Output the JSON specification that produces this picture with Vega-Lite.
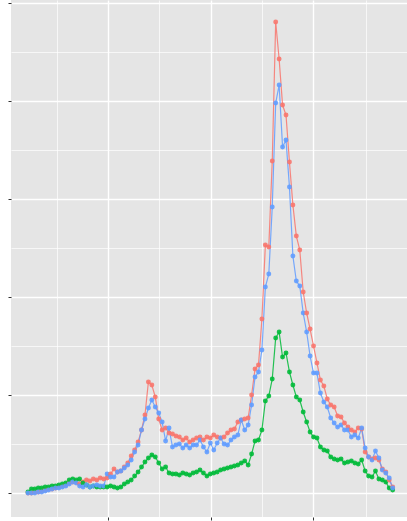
{
  "$schema": "https://vega.github.io/schema/vega-lite/v6.json",
  "width": 396,
  "height": 517,
  "autosize": "none",
  "padding": {"left": 11, "top": 0, "right": 0, "bottom": 4},
  "background": "white",
  "config": {"view": {"fill": "#E5E5E5", "stroke": null}},
  "data": {"values": [
    {"t":0,"a":0.00,"b":0.10,"c":0.00},
    {"t":1,"a":0.00,"b":0.41,"c":0.00},
    {"t":2,"a":0.10,"b":0.41,"c":0.00},
    {"t":3,"a":0.10,"b":0.51,"c":0.10},
    {"t":4,"a":0.20,"b":0.51,"c":0.10},
    {"t":5,"a":0.31,"b":0.61,"c":0.20},
    {"t":6,"a":0.41,"b":0.61,"c":0.31},
    {"t":7,"a":0.41,"b":0.71,"c":0.41},
    {"t":8,"a":0.51,"b":0.71,"c":0.51},
    {"t":9,"a":0.61,"b":0.82,"c":0.51},
    {"t":10,"a":0.71,"b":0.92,"c":0.61},
    {"t":11,"a":0.82,"b":1.02,"c":0.71},
    {"t":12,"a":1.02,"b":1.33,"c":0.92},
    {"t":13,"a":1.12,"b":1.43,"c":1.12},
    {"t":14,"a":1.12,"b":1.33,"c":1.02},
    {"t":15,"a":0.92,"b":1.43,"c":0.71},
    {"t":16,"a":1.12,"b":1.02,"c":0.61},
    {"t":17,"a":1.33,"b":0.82,"c":0.82},
    {"t":18,"a":1.22,"b":0.61,"c":0.61},
    {"t":19,"a":1.43,"b":0.71,"c":0.71},
    {"t":20,"a":1.33,"b":0.61,"c":0.82},
    {"t":21,"a":1.53,"b":0.61,"c":0.71},
    {"t":22,"a":1.43,"b":0.61,"c":0.71},
    {"t":23,"a":1.53,"b":0.61,"c":1.94},
    {"t":24,"a":1.94,"b":0.71,"c":1.63},
    {"t":25,"a":2.45,"b":0.61,"c":1.63},
    {"t":26,"a":2.14,"b":0.51,"c":2.14},
    {"t":27,"a":2.24,"b":0.61,"c":2.24},
    {"t":28,"a":2.65,"b":0.92,"c":2.55},
    {"t":29,"a":3.06,"b":1.12,"c":2.86},
    {"t":30,"a":3.78,"b":1.33,"c":3.37},
    {"t":31,"a":4.39,"b":1.73,"c":4.18},
    {"t":32,"a":5.20,"b":2.14,"c":4.90},
    {"t":33,"a":6.43,"b":2.65,"c":6.43},
    {"t":34,"a":7.96,"b":3.16,"c":7.55},
    {"t":35,"a":11.33,"b":3.57,"c":8.67},
    {"t":36,"a":11.02,"b":3.88,"c":9.49},
    {"t":37,"a":9.80,"b":3.67,"c":8.78},
    {"t":38,"a":7.55,"b":3.06,"c":8.16},
    {"t":39,"a":6.43,"b":2.45,"c":7.24},
    {"t":40,"a":6.63,"b":2.65,"c":5.31},
    {"t":41,"a":6.12,"b":2.04,"c":6.63},
    {"t":42,"a":6.02,"b":1.94,"c":4.69},
    {"t":43,"a":5.82,"b":1.94,"c":4.90},
    {"t":44,"a":5.71,"b":1.84,"c":5.00},
    {"t":45,"a":5.41,"b":2.04,"c":4.59},
    {"t":46,"a":5.61,"b":1.94,"c":4.90},
    {"t":47,"a":5.20,"b":1.84,"c":4.59},
    {"t":48,"a":5.41,"b":2.04,"c":4.90},
    {"t":49,"a":5.61,"b":2.14,"c":4.90},
    {"t":50,"a":5.71,"b":2.35,"c":5.41},
    {"t":51,"a":5.41,"b":2.04,"c":4.69},
    {"t":52,"a":5.71,"b":1.73,"c":4.18},
    {"t":53,"a":5.61,"b":1.94,"c":5.10},
    {"t":54,"a":5.92,"b":2.04,"c":4.39},
    {"t":55,"a":5.71,"b":2.14,"c":5.10},
    {"t":56,"a":5.61,"b":2.35,"c":5.61},
    {"t":57,"a":5.71,"b":2.45,"c":5.00},
    {"t":58,"a":6.12,"b":2.55,"c":4.90},
    {"t":59,"a":6.43,"b":2.65,"c":5.41},
    {"t":60,"a":6.53,"b":2.76,"c":5.71},
    {"t":61,"a":7.24,"b":2.86,"c":5.92},
    {"t":62,"a":7.45,"b":3.06,"c":7.45},
    {"t":63,"a":7.55,"b":3.27,"c":6.43},
    {"t":64,"a":7.65,"b":2.86,"c":6.94},
    {"t":65,"a":10.00,"b":3.98,"c":8.98},
    {"t":66,"a":12.65,"b":5.31,"c":11.84},
    {"t":67,"a":13.06,"b":5.41,"c":12.35},
    {"t":68,"a":17.76,"b":6.43,"c":14.59},
    {"t":69,"a":25.31,"b":9.39,"c":21.02},
    {"t":70,"a":25.10,"b":9.90,"c":22.35},
    {"t":71,"a":33.88,"b":11.63,"c":29.18},
    {"t":72,"a":48.06,"b":15.82,"c":39.80},
    {"t":73,"a":44.29,"b":16.43,"c":41.63},
    {"t":74,"a":39.59,"b":13.88,"c":35.31},
    {"t":75,"a":38.57,"b":14.29,"c":36.02},
    {"t":76,"a":33.78,"b":12.35,"c":31.22},
    {"t":77,"a":29.39,"b":11.02,"c":24.18},
    {"t":78,"a":26.22,"b":9.80,"c":21.63},
    {"t":79,"a":24.80,"b":9.49,"c":21.12},
    {"t":80,"a":20.51,"b":8.27,"c":18.37},
    {"t":81,"a":18.37,"b":7.24,"c":16.43},
    {"t":82,"a":16.73,"b":6.22,"c":13.98},
    {"t":83,"a":15.00,"b":5.71,"c":12.24},
    {"t":84,"a":13.27,"b":5.61,"c":12.24},
    {"t":85,"a":11.53,"b":4.69,"c":10.20},
    {"t":86,"a":10.92,"b":4.39,"c":9.29},
    {"t":87,"a":9.59,"b":4.29,"c":8.78},
    {"t":88,"a":8.98,"b":3.67,"c":7.65},
    {"t":89,"a":8.78,"b":3.47,"c":7.14},
    {"t":90,"a":7.86,"b":3.37,"c":6.73},
    {"t":91,"a":7.76,"b":3.47,"c":6.94},
    {"t":92,"a":7.14,"b":3.06,"c":6.43},
    {"t":93,"a":6.73,"b":3.16,"c":6.43},
    {"t":94,"a":6.43,"b":3.27,"c":5.71},
    {"t":95,"a":6.22,"b":3.06,"c":5.92},
    {"t":96,"a":6.63,"b":2.96,"c":5.61},
    {"t":97,"a":6.53,"b":3.37,"c":6.63},
    {"t":98,"a":4.18,"b":2.24,"c":4.59},
    {"t":99,"a":3.67,"b":1.73,"c":3.67},
    {"t":100,"a":3.47,"b":1.63,"c":3.37},
    {"t":101,"a":3.57,"b":2.24,"c":4.29},
    {"t":102,"a":3.37,"b":1.43,"c":3.57},
    {"t":103,"a":2.45,"b":1.33,"c":2.35},
    {"t":104,"a":2.14,"b":1.12,"c":2.04},
    {"t":105,"a":1.33,"b":0.51,"c":1.53},
    {"t":106,"a":0.61,"b":0.31,"c":0.51}
  ]},
  "transform": [{"fold": ["a", "b", "c"], "as": ["s", "v"]}],
  "encoding": {
    "color": {"field": "s", "type": "nominal", "scale": {"domain": ["a", "b", "c"], "range": ["#F8766D", "#00BA38", "#619CFF"]}, "legend": null}
  },
  "layer": [
    {
      "mark": {"type": "line", "strokeWidth": 1.2, "opacity": 0.85},
      "encoding": {
        "x": {"field": "t", "type": "quantitative", "scale": {"domain": [-4.94, 110.17], "nice": false, "zero": false},
          "axis": {"values": [23.26, 53.2, 82.85], "grid": true, "gridColor": "white", "gridWidth": 1.4, "ticks": true, "tickColor": "#333333", "tickSize": 3, "tickWidth": 1, "labels": false, "domain": false, "title": null}},
        "y": {"field": "v", "type": "quantitative", "scale": {"domain": [-2.449, 50.306], "nice": false, "zero": false},
          "axis": {"values": [0, 10, 20, 30, 40, 50], "grid": true, "gridColor": "white", "gridWidth": 1.4, "ticks": true, "tickColor": "#333333", "tickSize": 3, "tickWidth": 1, "labels": false, "domain": false, "title": null}}
      }
    },
    {
      "mark": {"type": "point", "filled": true, "size": 24, "opacity": 0.9},
      "encoding": {
        "x": {"field": "t", "type": "quantitative",
          "axis": {"orient": "top", "values": [8.4, 38.1, 68.0, 98.2], "grid": true, "gridColor": "white", "gridWidth": 0.7, "ticks": false, "labels": false, "domain": false, "title": null}},
        "y": {"field": "v", "type": "quantitative",
          "axis": {"orient": "right", "values": [5, 15, 25, 35, 45], "grid": true, "gridColor": "white", "gridWidth": 0.7, "ticks": false, "labels": false, "domain": false, "title": null}}
      }
    }
  ],
  "resolve": {"axis": {"x": "independent", "y": "independent"}}
}
